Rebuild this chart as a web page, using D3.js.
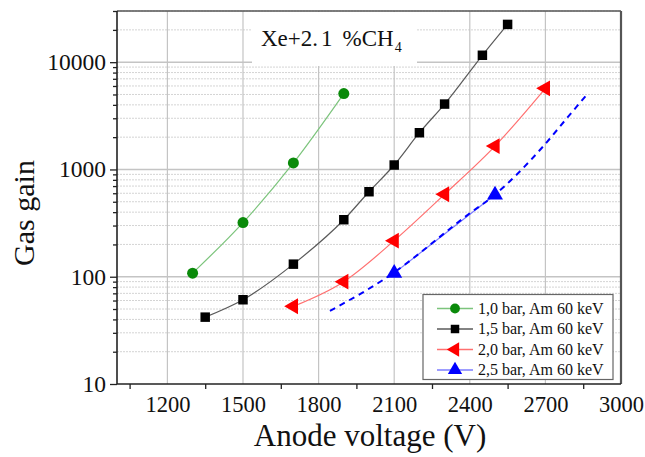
<!DOCTYPE html>
<html>
<head>
<meta charset="utf-8">
<script src="https://cdn.jsdelivr.net/npm/d3@7"></script>
<style>
  body { margin: 0; background: #fff; }
  svg text { font-family: "Liberation Serif", "DejaVu Serif", serif; fill: #111; }
</style>
</head>
<body>
<svg id="chart" width="645" height="457"></svg>
<script>
// values
let xTicks = [1200, 1500, 1800, 2100, 2400, 2700, 3000]
let xMinor = [1050, 1350, 1650, 1950, 2250, 2550, 2850]
let yTicks = [10, 100, 1000, 10000]

let volt10 = [1300, 1500, 1700, 1900]
let gain10 = [108, 320, 1150, 5100]

let volt15 = [1350, 1500, 1700, 1900, 2000, 2100, 2200, 2300, 2450, 2550]
let gain15 = [42, 61, 131, 340, 620, 1100, 2200, 4070, 11600, 22500]

let volt20 = [1700, 1900, 2100, 2300, 2500, 2700]
let gain20 = [53, 90, 217, 587, 1650, 5700]

let volt25 = [2100, 2500]
let gain25 = [108, 580]

// dashed blue curve
let fitVolt = [1845, 2075, 2400, 2490, 2690, 2785, 2865]
let fitGain = [48, 100, 390, 558, 1630, 3000, 5000]

let seriesNames = ['1,0 bar, Am 60 keV', '1,5 bar, Am 60 keV', '2,0 bar, Am 60 keV', '2,5 bar, Am 60 keV']

document.addEventListener('DOMContentLoaded', function () {
    let svg = d3.select('svg#chart')
    let left = 117, top = 11, right = 621, bottom = 384

    let x = d3.scaleLinear().domain([1000, 3000]).range([left, right])
    let y = d3.scaleLog().domain([10, 30000]).range([bottom, top])

    let minorY = []
    for (let dec = 10; dec <= 10000; dec *= 10)
        for (let k = 2; k <= 9; k++)
            if (dec * k <= 30000) minorY.push(dec * k)

    // grid
    let grid = svg.append('g')
    grid.selectAll('line.ymin').data(minorY).enter().append('line')
        .attr('x1', left).attr('x2', right)
        .attr('y1', d => y(d)).attr('y2', d => y(d))
        .attr('stroke', '#d4d4d4').attr('stroke-width', 1).attr('stroke-dasharray', '2,1')
    grid.selectAll('line.ymaj').data(yTicks.slice(1)).enter().append('line')
        .attr('x1', left).attr('x2', right)
        .attr('y1', d => y(d)).attr('y2', d => y(d))
        .attr('stroke', '#c4c4c4').attr('stroke-width', 1.5)
    grid.selectAll('line.xmaj').data(xTicks.slice(0, -1)).enter().append('line')
        .attr('x1', d => x(d)).attr('x2', d => x(d))
        .attr('y1', top).attr('y2', bottom)
        .attr('stroke', '#c4c4c4').attr('stroke-width', 1.2)

    // white label box over the grid
    svg.append('rect').attr('x', 252).attr('y', top + 1).attr('width', 165).attr('height', 54).attr('fill', '#fff')
    let lab = svg.append('text').attr('x', 261).attr('y', 46).attr('font-size', 23)
    lab.append('tspan').text('Xe+2.')
    lab.append('tspan').attr('dx', 3).text('1')
    lab.append('tspan').attr('dx', 10).text('%CH')
    lab.append('tspan').attr('font-size', 14).attr('dy', 6).attr('dx', 1).text('4')

    // axes
    let yAxis = d3.axisLeft(y).tickValues(yTicks).tickFormat(d3.format('d')).tickSize(7).tickPadding(4)
    let gy = svg.append('g').attr('transform', `translate(${left},0)`).call(yAxis)
    gy.selectAll('text').attr('font-size', 23.5).style('font-family', '"Liberation Serif", serif').attr('fill', '#111')
    let yMinorAxis = d3.axisLeft(y).tickValues(minorY).tickFormat('').tickSize(4)
    svg.append('g').attr('transform', `translate(${left},0)`).call(yMinorAxis)

    let xAxis = d3.axisBottom(x).tickValues(xTicks).tickFormat(d3.format('d')).tickSize(0).tickPadding(12)
    let gx = svg.append('g').attr('transform', `translate(0,${bottom})`).call(xAxis)
    gx.selectAll('text').attr('font-size', 22.5).style('font-family', '"Liberation Serif", serif').attr('fill', '#111')
    let xMinorAxis = d3.axisBottom(x).tickValues(xMinor).tickFormat('').tickSize(5)
    svg.append('g').attr('transform', `translate(0,${bottom})`).call(xMinorAxis)

    svg.selectAll('.domain').remove()
    svg.selectAll('.tick line').attr('stroke', '#222').attr('stroke-width', 1.3)

    // frame
    svg.append('line').attr('x1', left).attr('x2', right).attr('y1', top).attr('y2', top).attr('stroke', '#555').attr('stroke-width', 1.5)
    svg.append('line').attr('x1', right).attr('x2', right).attr('y1', top).attr('y2', bottom).attr('stroke', '#555').attr('stroke-width', 2.2)
    svg.append('line').attr('x1', left).attr('x2', left).attr('y1', top).attr('y2', bottom).attr('stroke', '#222').attr('stroke-width', 1.6)
    svg.append('line').attr('x1', left).attr('x2', right).attr('y1', bottom).attr('y2', bottom).attr('stroke', '#222').attr('stroke-width', 1.6)

    // series
    let series = [
        { v: volt10, g: gain10, line: '#7cc47c', col: '#0a8a0a', sym: d3.symbolCircle, size: 95, rot: 0 },
        { v: volt15, g: gain15, line: '#5a5a5a', col: '#000', sym: d3.symbolSquare, size: 90, rot: 0 },
        { v: volt20, g: gain20, line: '#ff7070', col: '#ff0000', sym: d3.symbolTriangle, size: 110, rot: -90 },
        { v: volt25, g: gain25, line: '#7c7cff', col: '#0000ff', sym: d3.symbolTriangle, size: 110, rot: 0 }
    ]

    let lineGen = d3.line().x(d => x(d[0])).y(d => y(d[1])).curve(d3.curveMonotoneX)

    series.forEach(s => {
        let pts = s.v.map((v, i) => [v, s.g[i]])
        svg.append('path').datum(pts).attr('d', lineGen)
            .attr('fill', 'none').attr('stroke', s.line).attr('stroke-width', 1.2)
    })

    let fitPts = fitVolt.map((v, i) => [v, fitGain[i]])
    svg.append('path').datum(fitPts).attr('d', lineGen)
        .attr('fill', 'none').attr('stroke', '#0000ff').attr('stroke-width', 2).attr('stroke-dasharray', '6,5')

    series.forEach(s => {
        let pts = s.v.map((v, i) => [v, s.g[i]])
        svg.append('g').selectAll('path').data(pts).enter().append('path')
            .attr('d', d3.symbol().type(s.sym).size(s.size))
            .attr('transform', d => `translate(${x(d[0])},${y(d[1])}) rotate(${s.rot})`)
            .attr('fill', s.col)
    })

    // legend
    let lg = svg.append('g')
    lg.append('rect').attr('x', 423).attr('y', 294.5).attr('width', 190).attr('height', 85)
        .attr('fill', '#fff').attr('stroke', '#666').attr('stroke-width', 1.2)
    let rows = lg.selectAll('g.row').data(series).enter().append('g')
        .attr('transform', (d, i) => `translate(0,${308.5 + i * 20.5})`)
    rows.append('line').attr('x1', 437).attr('x2', 473).attr('y1', 0).attr('y2', 0)
        .attr('stroke', d => d.line).attr('stroke-width', 1.5)
    rows.append('path').attr('d', d => d3.symbol().type(d.sym).size(d.size * 0.8)())
        .attr('transform', d => `translate(455,0) rotate(${d.rot})`)
        .attr('fill', d => d.col)
    rows.append('text').attr('x', 478).attr('y', 5).attr('font-size', 16)
        .text((d, i) => seriesNames[i])

    // axis titles
    svg.append('text').attr('x', 370).attr('y', 446).attr('text-anchor', 'middle')
        .attr('font-size', 31).text('Anode voltage (V)')
    svg.append('text').attr('transform', 'translate(34,213) rotate(-90)').attr('text-anchor', 'middle')
        .attr('font-size', 30).text('Gas gain')
})
</script>
</body>
</html>
